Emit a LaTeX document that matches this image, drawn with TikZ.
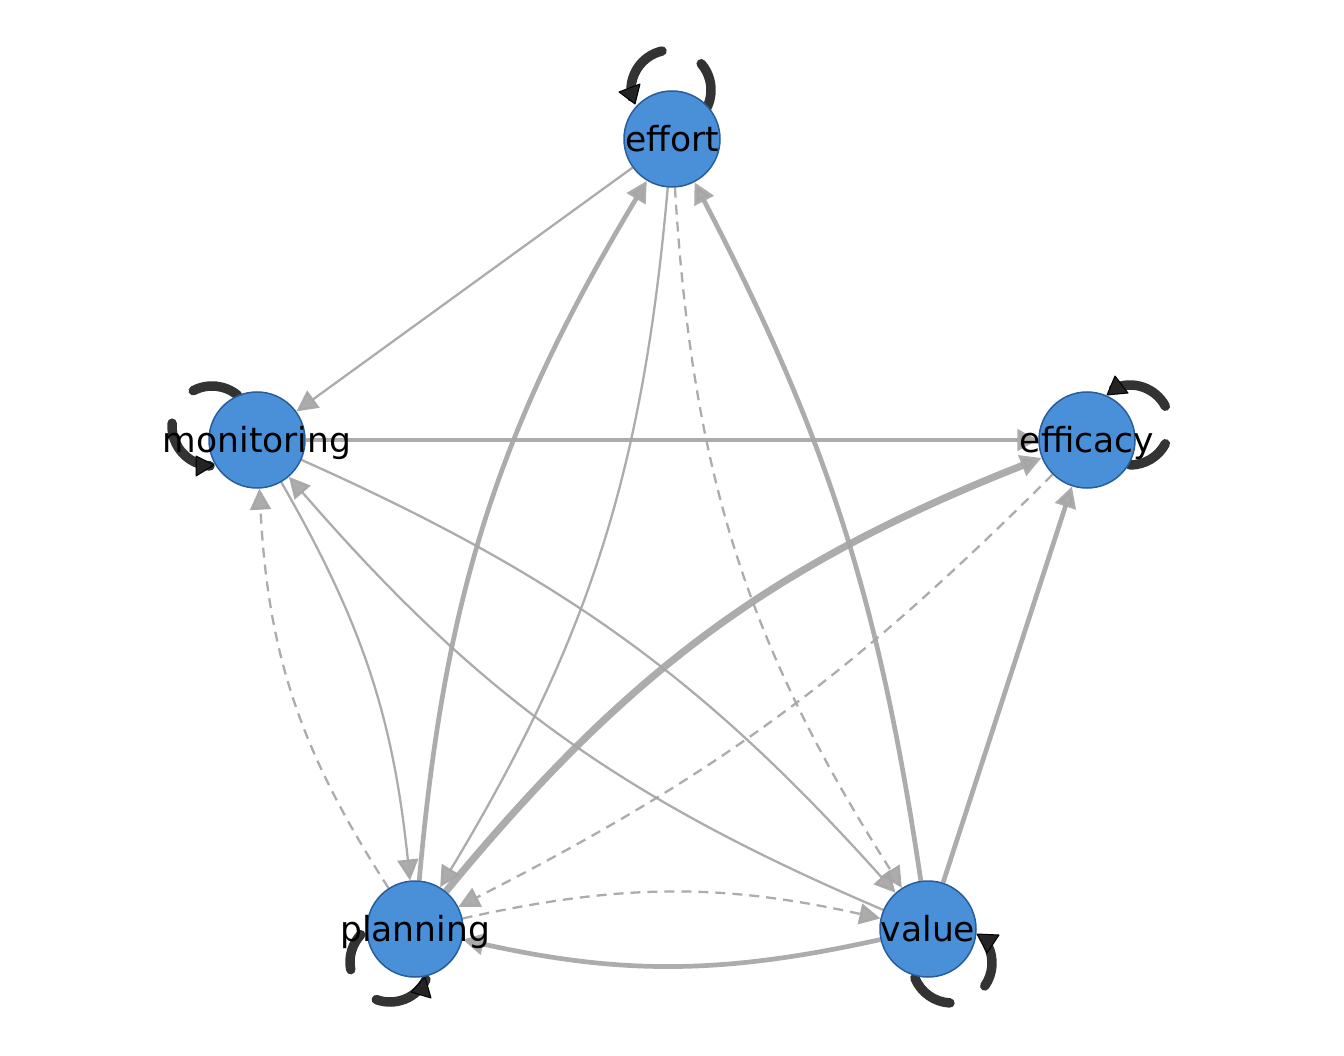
\documentclass[tikz,border=0pt]{standalone}
\usepackage{fontspec}
\setmainfont{DejaVu Sans}
\usetikzlibrary{arrows.meta,calc,backgrounds}
\definecolor{nodeblue}{RGB}{74,144,217}
\definecolor{nodeborder}{RGB}{40,92,155}
\definecolor{edgegray}{RGB}{165,165,165}
\definecolor{loopdark}{RGB}{51,51,51}
\tikzset{
  vnode/.style={circle, fill=nodeblue, draw=nodeborder, line width=1.5pt, minimum size=96pt, inner sep=0pt},
  vlabel/.style={font=\fontsize{34.5}{36}\selectfont, text height=25pt, text depth=0pt, inner sep=0pt, text=black},
  edgebase/.style={draw=edgegray, opacity=0.92, -{Triangle[length=21pt,width=21pt]}},
  thinE/.style={edgebase, line width=2.3pt},
  medE/.style={edgebase, line width=4.7pt},
  heavyE/.style={edgebase, line width=7.2pt},
  dashE/.style={edgebase, line width=2.3pt, dash pattern=on 10pt off 7pt},
  loopline/.style={draw=loopdark, line width=9.5pt, line cap=round},
  loophead/.style={fill=loopdark!70!black, draw=black, line width=1pt, line join=round}
}
\newcommand{\mkloop}[7]{%
  \draw[loopline] ($(#1)+(#2,#3)+(#4:40)$) arc[start angle=#4, end angle=#5, radius=40pt];
  \draw[loopline] ($(#1)+(#2,#3)+(#6:40)$) arc[start angle=#6, end angle=#7, radius=40pt];}
\newcommand{\mkhead}[7]{%
  \draw[loophead] ($(#1)+(#2,#3)$) -- ($(#1)+(#4,#5)$) -- ($(#1)+(#6,#7)$) -- cycle;}
\begin{document}
\begin{tikzpicture}[x=1pt, y=1pt]
\useasboundingbox (0,0) rectangle (1344,-1056);
\node[vnode, label={[vlabel]center:effort}] (effort) at (672,-139) {};
\node[vnode, label={[vlabel]center:monitoring}] (monitoring) at (257,-440) {};
\node[vnode, label={[vlabel]center:efficacy}] (efficacy) at (1087,-440) {};
\node[vnode, label={[vlabel]center:planning}] (planning) at (415,-929) {};
\node[vnode, label={[vlabel]center:value}] (value) at (928,-929) {};
\begin{scope}[on background layer]
  % self loops
  \mkloop{effort}{-1}{49}{-28}{41}{103}{190}
  \mkhead{effort}{-53}{47}{-32}{55}{-37}{35}
  \mkloop{monitoring}{-45}{14}{50}{118}{176}{267}
  \mkhead{monitoring}{-43}{-25}{-61}{-16}{-61}{-36}
  \mkloop{efficacy}{43}{15}{-90}{-28}{28}{114}
  \mkhead{efficacy}{28}{64}{20}{45}{41}{47}
  \mkloop{planning}{-25}{-33}{137}{191}{250}{334}
  \mkhead{planning}{10}{-48}{-4}{-63}{16}{-69}
  \mkloop{value}{24}{-34}{202}{267}{325}{387}
  \mkhead{value}{59}{-24}{49}{-5}{71}{-6}
  % edges
  \draw[thinE] (effort) -- (monitoring);
  \draw[medE] (monitoring) -- (efficacy);
  \draw[medE] (planning) to[bend left=13] (effort);
  \draw[thinE] (effort) to[bend left=13] (planning);
  \draw[dashE] (effort) to[bend right=14.5] (value);
  \draw[medE] (value) to[bend right=9.5] (effort);
  \draw[heavyE] (planning) to[bend left=14.5] (efficacy);
  \draw[dashE] (efficacy) to[bend left=9] (planning);
  \draw[medE] (value) -- (efficacy);
  \draw[thinE] (monitoring) to[bend left=12] (value);
  \draw[thinE] (value) to[bend left=13] (monitoring);
  \draw[thinE] (monitoring) to[bend left=12] (planning);
  \draw[dashE] (planning) to[bend left=15] (monitoring);
  \draw[dashE] (planning) to[bend left=12.5] (value);
  \draw[medE] (value) to[bend left=12.5] (planning);
\end{scope}
\end{tikzpicture}
\end{document}
